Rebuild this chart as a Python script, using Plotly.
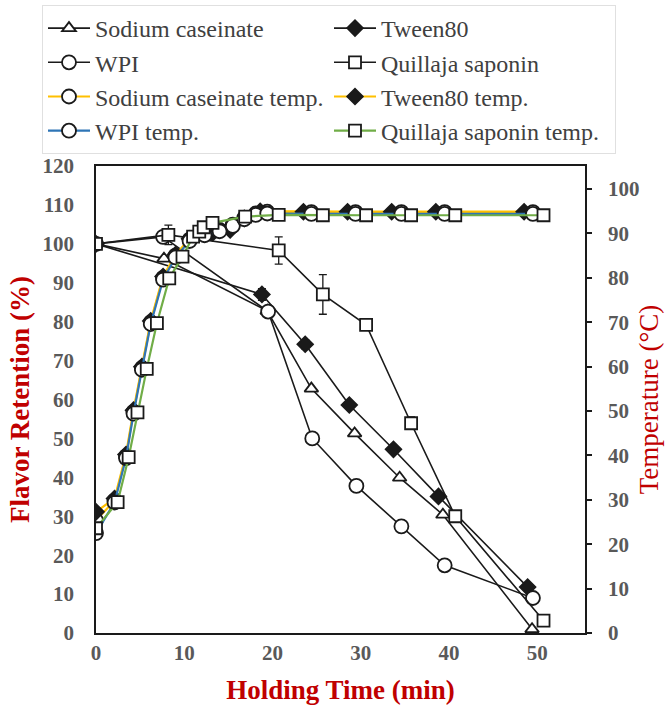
import plotly.graph_objects as go

# ---- Flavor retention (%) against holding time (min) ----
sc_t = [0, 7.7, 19.4, 24.4, 29.3, 34.4, 39.3, 49.4]
sc_v = [100, 96.2, 82.8, 62.8, 51.3, 39.9, 30.4, 1.0]

t80_t = [0, 18.8, 23.7, 28.7, 33.7, 38.8, 48.9]
t80_v = [100, 87.0, 74.2, 58.6, 47.2, 35.1, 11.8]
t80_err = [0, 1.5, 1.2, 0, 0, 0, 0.8]

wpi_t = [0, 7.6, 19.5, 24.5, 29.5, 34.6, 39.5, 49.5]
wpi_v = [100, 101.8, 82.6, 50.0, 37.8, 27.4, 17.4, 9.0]

qs_t = [0, 8.2, 20.7, 25.7, 30.6, 35.7, 40.7, 50.7]
qs_v = [100, 102.3, 98.3, 87.0, 79.2, 53.9, 30.0, 3.2]
qs_err = [0, 2.5, 3.5, 5.1, 1.4, 1.6, 0, 0]

# ---- Sample temperature (°C) during heating ----
sc_temp_t = [0, 2.1, 3.4, 4.25, 5.2, 6.2, 7.6, 9.0, 10.6, 12.3, 14.0, 15.5,
             16.8, 18.1, 19.4, 24.4, 29.4, 34.6, 39.5, 49.5]
sc_temp_v = [25.4, 29.8, 39.8, 49.8, 59.7, 70.0, 80.0, 85.0, 88.6, 89.9, 90.8,
             92.0, 93.5, 94.5, 94.9, 94.8, 94.8, 94.8, 94.8, 94.8]

t80_temp_t = [0, 2.1, 3.4, 4.25, 5.2, 6.2, 7.6, 9.0, 10.6, 13.2, 15.2, 16.8,
              18.6, 23.5, 28.5, 33.5, 38.5, 48.5]
t80_temp_v = [27.3, 30.3, 40.2, 50.2, 60.0, 70.3, 80.3, 85.2, 88.8, 90.1, 90.8,
              93.4, 95.0, 94.9, 94.9, 94.9, 94.9, 94.9]

wpi_temp_t = [0, 2.1, 3.4, 4.25, 5.2, 6.2, 7.6, 9.0, 10.6, 12.3, 14.0, 15.5,
              16.8, 18.1, 19.4, 24.4, 29.4, 34.6, 39.5, 49.5]
wpi_temp_v = [22.5, 29.4, 39.4, 49.4, 59.3, 69.6, 79.6, 84.6, 88.3, 89.6, 90.5,
              91.7, 93.2, 94.2, 94.5, 94.4, 94.4, 94.4, 94.4, 94.4]

qs_temp_t = [0, 2.45, 3.7, 4.7, 5.75, 6.9, 8.3, 9.8, 11.0, 11.7, 12.2, 13.2,
             16.9, 20.7, 25.7, 30.6, 35.7, 40.7, 50.7]
qs_temp_v = [23.6, 29.5, 39.6, 49.7, 59.5, 69.8, 79.9, 84.8, 89.3, 90.4, 91.4,
             92.4, 93.8, 94.2, 94.1, 94.1, 94.1, 94.1, 94.1]

x_ticks = [0, 10, 20, 30, 40, 50]
left_ticks = list(range(0, 121, 10))
right_ticks = list(range(0, 101, 10))

SERIF = "Liberation Serif, Times New Roman, serif"
BLACK = "#1a1a1a"
ORANGE = "#FFC000"
BLUE = "#2E75B6"
GREEN = "#70AD47"
TITLE_RED = "#C00000"

# plot-area box in pixels (used to place the legend in paper units)
W, H = 670, 708
M_L, M_R, M_T, M_B = 96, 85, 166, 75
PLOT_W = W - M_L - M_R
PLOT_H = H - M_T - M_B


def marker(symbol, size, filled=False):
    return dict(symbol=symbol, size=size,
                color=BLACK if filled else "white",
                line=dict(color=BLACK, width=1.8))


def err(vals):
    return dict(type="data", array=vals, visible=True, color=BLACK,
                thickness=1.3, width=4)


fig = go.Figure()

# retention curves (left axis)
fig.add_trace(go.Scatter(x=sc_t, y=sc_v, name="Sodium caseinate",
                         mode="lines+markers", line=dict(color=BLACK, width=1.6),
                         marker=marker("triangle-up", 12)))
fig.add_trace(go.Scatter(x=t80_t, y=t80_v, name="Tween80",
                         mode="lines+markers", line=dict(color=BLACK, width=1.6),
                         marker=marker("diamond", 12, filled=True),
                         error_y=err(t80_err)))
fig.add_trace(go.Scatter(x=wpi_t, y=wpi_v, name="WPI",
                         mode="lines+markers", line=dict(color=BLACK, width=1.6),
                         marker=marker("circle", 14)))
fig.add_trace(go.Scatter(x=qs_t, y=qs_v, name="Quillaja saponin",
                         mode="lines+markers", line=dict(color=BLACK, width=1.6),
                         marker=marker("square", 12),
                         error_y=err(qs_err)))

# temperature curves (right axis)
fig.add_trace(go.Scatter(x=sc_temp_t, y=sc_temp_v, name="Sodium caseinate temp.",
                         yaxis="y2", mode="lines+markers",
                         line=dict(color=ORANGE, width=2.2),
                         marker=marker("circle", 14)))
fig.add_trace(go.Scatter(x=t80_temp_t, y=t80_temp_v, name="Tween80 temp.",
                         yaxis="y2", mode="lines+markers",
                         line=dict(color=ORANGE, width=2.2),
                         marker=marker("diamond", 12, filled=True)))
fig.add_trace(go.Scatter(x=wpi_temp_t, y=wpi_temp_v, name="WPI temp.",
                         yaxis="y2", mode="lines+markers",
                         line=dict(color=BLUE, width=2.2),
                         marker=marker("circle", 14)))
fig.add_trace(go.Scatter(x=qs_temp_t, y=qs_temp_v, name="Quillaja saponin temp.",
                         yaxis="y2", mode="lines+markers",
                         line=dict(color=GREEN, width=2.2),
                         marker=marker("square", 12)))

tick_font = dict(family=SERIF, size=21, color="#595959", weight="bold")

fig.update_layout(
    width=W, height=H,
    margin=dict(l=M_L, r=M_R, t=M_T, b=M_B, autoexpand=False),
    paper_bgcolor="white", plot_bgcolor="white",
    showlegend=True,
    legend=dict(
        orientation="h",
        x=(42 - M_L) / PLOT_W, y=(H - M_B - 5) / PLOT_H,
        xanchor="left", yanchor="top",
        entrywidth=229, entrywidthmode="pixels", itemwidth=42,
        font=dict(family=SERIF, size=24, color="#404040"),
        bgcolor="white", bordercolor="#e0e0e0", borderwidth=1,
    ),
    xaxis=dict(
        range=[0, 55.4], tickvals=x_ticks, showgrid=False, zeroline=False,
        showline=True, linecolor=BLACK, linewidth=1.5, mirror=True,
        ticks="", tickfont=tick_font,
        title=dict(text="Holding Time (min)", standoff=16,
                   font=dict(family=SERIF, size=27, color=TITLE_RED, weight="bold")),
    ),
    yaxis=dict(
        range=[0, 120], tickvals=left_ticks, showgrid=False, zeroline=False,
        showline=True, linecolor=BLACK, linewidth=1.5,
        ticks="", tickfont=tick_font, ticklabelstandoff=16,
        title=dict(text="Flavor Retention (%)", standoff=5,
                   font=dict(family=SERIF, size=27, color=TITLE_RED, weight="bold")),
    ),
    yaxis2=dict(
        range=[0, 105.2], tickvals=right_ticks, overlaying="y", side="right",
        showgrid=False, zeroline=False, showline=True, linecolor=BLACK,
        linewidth=1.5, ticks="outside", ticklen=5, tickwidth=1.5,
        tickcolor=BLACK, tickfont=tick_font, ticklabelstandoff=12,
        title=dict(text="Temperature (°C)", standoff=1,
                   font=dict(family=SERIF, size=27, color=TITLE_RED)),
    ),
)

fig.write_html("out.html")
